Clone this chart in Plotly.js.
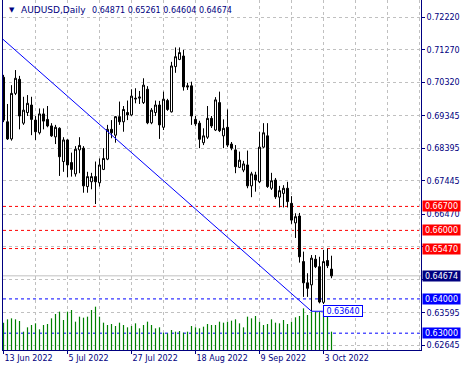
<!DOCTYPE html>
<html><head><meta charset="utf-8">
<script src="https://cdn.plot.ly/plotly-3.0.1.min.js"></script>
<style>html,body{margin:0;padding:0;background:#fff}#chart{width:466px;height:371px}</style>
</head><body><div id="chart"></div>
<script>
const symbolTitle = "AUDUSD,Daily";
const lastBarText = "0.64871 0.65261 0.64604 0.64674";
const openP  = [0.7047,0.6917,0.6867,0.7000,0.7041,0.6913,0.6944,0.6966,0.6922,0.6885,0.6940,0.6924,0.6905,0.6873,0.6898,0.6801,0.6864,0.6798,0.6765,0.6835,0.6840,0.6728,0.6742,0.6757,0.6739,0.6778,0.6808,0.6895,0.6878,0.6932,0.6917,0.6944,0.6937,0.6986,0.6986,0.6973,0.7012,0.6914,0.6944,0.6966,0.6901,0.6979,0.6946,0.7078,0.7099,0.7109,0.7022,0.7022,0.6924,0.6913,0.6856,0.6872,0.6927,0.6893,0.6973,0.6876,0.6901,0.6852,0.6835,0.6784,0.6776,0.6791,0.6730,0.6762,0.6742,0.6843,0.6876,0.6723,0.6747,0.6697,0.6708,0.6723,0.6679,0.6622,0.6642,0.6509,0.6447,0.6441,0.6516,0.6494,0.6390,0.6512,0.64871];
const highP  = [0.7054,0.6969,0.7024,0.7068,0.7051,0.6990,0.6995,0.6990,0.6934,0.6956,0.6956,0.6963,0.6913,0.6908,0.6901,0.6872,0.6866,0.6827,0.6846,0.6872,0.6846,0.6771,0.6768,0.6801,0.6810,0.6840,0.6908,0.6922,0.6934,0.6976,0.6963,0.6979,0.7012,0.7015,0.7007,0.7044,0.7021,0.6957,0.6979,0.6978,0.7005,0.6984,0.7092,0.7134,0.7134,0.7127,0.7031,0.7034,0.6934,0.6920,0.6898,0.6963,0.6934,0.6989,0.7005,0.6924,0.6953,0.6858,0.6849,0.6830,0.6803,0.6833,0.6771,0.6771,0.6888,0.6913,0.6913,0.6768,0.6753,0.6730,0.6732,0.6742,0.6700,0.6650,0.6651,0.6538,0.6475,0.6528,0.6528,0.6523,0.6543,0.6547,0.65261];
const lowP   = [0.6916,0.6864,0.6862,0.6995,0.6895,0.6908,0.6934,0.6878,0.6864,0.6880,0.6895,0.6901,0.6873,0.6852,0.6759,0.6771,0.6755,0.6757,0.6757,0.6767,0.6710,0.6710,0.6720,0.6677,0.6728,0.6776,0.6805,0.6869,0.6856,0.6908,0.6888,0.6922,0.6934,0.6971,0.6969,0.6969,0.6910,0.6910,0.6934,0.6867,0.6893,0.6949,0.6944,0.7060,0.7097,0.7008,0.7010,0.6908,0.6905,0.6840,0.6849,0.6867,0.6899,0.6890,0.6887,0.6840,0.6843,0.6834,0.6767,0.6782,0.6770,0.6723,0.6697,0.6713,0.6738,0.6840,0.6724,0.6718,0.6692,0.6667,0.6667,0.6667,0.6619,0.6578,0.6506,0.6406,0.6406,0.6364,0.6490,0.6387,0.6385,0.6490,0.64604];
const closeP = [0.6922,0.6867,0.7000,0.7044,0.6934,0.6951,0.6971,0.6924,0.6888,0.6940,0.6919,0.6905,0.6876,0.6901,0.6815,0.6864,0.6791,0.6778,0.6837,0.6848,0.6730,0.6757,0.6757,0.6742,0.6791,0.6810,0.6895,0.6885,0.6932,0.6917,0.6953,0.6937,0.6992,0.6984,0.6989,0.7024,0.6914,0.6951,0.6966,0.6908,0.6983,0.6953,0.7080,0.7107,0.7119,0.7019,0.7019,0.6934,0.6911,0.6866,0.6876,0.6927,0.6905,0.6981,0.6891,0.6898,0.6849,0.6840,0.6786,0.6805,0.6794,0.6730,0.6765,0.6747,0.6843,0.6885,0.6728,0.6745,0.6698,0.6716,0.6723,0.6684,0.6630,0.6640,0.6523,0.6447,0.6431,0.6519,0.6494,0.6391,0.6509,0.6497,0.64674];
const volume = [82,92,95,92,87,55,68,75,80,62,75,78,95,108,115,90,115,120,85,100,97,100,120,130,100,82,75,78,72,82,75,68,72,80,65,75,85,75,65,68,52,50,60,55,57,52,55,72,68,65,70,78,75,75,85,82,85,88,92,80,68,100,95,102,85,75,78,92,82,80,90,78,85,98,102,125,105,115,115,115,115,105,55].map(v => v * 1000);
const tickLabels = ["13 Jun 2022","5 Jul 2022","27 Jul 2022","18 Aug 2022","9 Sep 2022","3 Oct 2022"];
const tickBars = [0,16,32,48,64,80];
const priceGrid = [0.72220,0.71270,0.70320,0.69345,0.68395,0.67445,0.66470,0.65520,0.64570,0.63595,0.62645];
const priceGridHidden = [0.65520,0.64570];
const redLevels = [0.66700,0.66000,0.65470];
const blueLevels = [0.64000,0.63000];
const bidPrice = 0.64674;
const trendBars = [-0.15, 77];
const trendPrices = [0.7158, 0.6364];
const trendLabel = {bar: 79.85, price: 0.63640};

const NAVY = '#000080', GRID = '#c0c0c0', FONT = 'DejaVu Sans';
const idx = openP.map((_, i) => i);

const traces = [
  {type:'bar', x: idx, y: volume, yaxis:'y', marker:{color:'#008000', line:{width:0}}, width:0.3, hoverinfo:'skip'},
  {type:'candlestick', x: idx, open: openP, high: highP, low: lowP, close: closeP, yaxis:'y2',
   increasing:{line:{color:'#000000', width:1}, fillcolor:'#ffffff'},
   decreasing:{line:{color:'#000000', width:1}, fillcolor:'#000000'},
   whiskerwidth:0, hoverinfo:'skip'}
];

const shapes = [];
redLevels.forEach(p => shapes.push({type:'line', xref:'paper', x0:0, x1:1, yref:'y2', y0:p, y1:p, layer:'between', line:{color:'#ff0000', width:1, dash:'3px,3px'}}));
blueLevels.forEach(p => shapes.push({type:'line', xref:'paper', x0:0, x1:1, yref:'y2', y0:p, y1:p, layer:'between', line:{color:'#0000ff', width:1, dash:'3px,3px'}}));
shapes.push({type:'line', xref:'paper', x0:0, x1:1, yref:'y2', y0:bidPrice, y1:bidPrice, layer:'between', line:{color:GRID, width:1}});
shapes.push({type:'line', xref:'x', yref:'y2', x0:trendBars[0], x1:trendBars[1], y0:trendPrices[0], y1:trendPrices[1], layer:'above', line:{color:'#0000ff', width:1}});
shapes.push({type:'line', xref:'x', yref:'y2', x0:trendBars[1], x1:trendLabel.bar, y0:trendLabel.price, y1:trendLabel.price, layer:'above', line:{color:'#0000ff', width:1}});

const annotations = [
  {xref:'paper', yref:'paper', x:0, y:1, xanchor:'left', yanchor:'middle', xshift:4, yshift:-10, text:'▼', showarrow:false, font:{family:FONT, size:7, color:NAVY}},
  {xref:'paper', yref:'paper', x:0, y:1, xanchor:'left', yanchor:'middle', xshift:16, yshift:-10, text:symbolTitle, showarrow:false, font:{family:FONT, size:9, color:NAVY}},
  {xref:'paper', yref:'paper', x:0, y:1, xanchor:'left', yanchor:'middle', xshift:87, yshift:-10, text:lastBarText, showarrow:false, font:{family:FONT, size:8, color:NAVY}}
];
function priceBox(p, bg) {
  annotations.push({xref:'paper', yref:'y2', x:1, y:p, xanchor:'left', yanchor:'middle', xshift:1, text:p.toFixed(5), showarrow:false,
    bgcolor:bg, borderpad:0, width:37, height:10, font:{family:FONT, size:8, color:'#ffffff'}});
}
redLevels.forEach(p => priceBox(p, '#ff0000'));
blueLevels.forEach(p => priceBox(p, '#0000ff'));
priceBox(bidPrice, NAVY);
annotations.push({xref:'x', yref:'y2', x:trendLabel.bar, y:trendLabel.price, xanchor:'left', yanchor:'middle', text:trendLabel.price.toFixed(5), showarrow:false,
  bgcolor:'#ffffff', bordercolor:'#0000ff', borderwidth:1, borderpad:0, width:38, height:10, font:{family:FONT, size:8, color:'#0000ff'}});

const layout = {
  width:466, height:371, margin:{l:3, r:45, t:0, b:21}, paper_bgcolor:'#ffffff', plot_bgcolor:'#ffffff', showlegend:false,
  boxgap:0.5, boxgroupgap:0,
  xaxis:{range:[-0.125, 104.375], tickmode:'array', tickvals:tickBars, ticktext:tickLabels, ticks:'outside', ticklen:3, tickcolor:NAVY,
    ticklabelposition:'outside right', tickfont:{family:FONT, size:8, color:NAVY},
    showgrid:true, gridcolor:GRID, griddash:'3px,3px', gridwidth:1,
    minor:{tickmode:'linear', tick0:0, dtick:8, showgrid:true, gridcolor:GRID, griddash:'3px,3px', gridwidth:1, ticks:''},
    showline:true, linecolor:NAVY, linewidth:1, zeroline:false, rangeslider:{visible:false}, fixedrange:true},
  yaxis:{range:[0, 1050000], visible:false, fixedrange:true},
  yaxis2:{overlaying:'y', side:'right', range:[0.62509, 0.72725], tickmode:'array', tickvals:priceGrid,
    ticktext:priceGrid.map(v => priceGridHidden.includes(v) ? '' : v.toFixed(5)),
    ticks:'outside', ticklen:3, tickcolor:NAVY, tickfont:{family:FONT, size:8, color:NAVY},
    showgrid:true, gridcolor:GRID, griddash:'3px,3px', gridwidth:1,
    showline:true, mirror:true, linecolor:NAVY, linewidth:1, zeroline:false, fixedrange:true},
  shapes:shapes, annotations:annotations
};
Plotly.newPlot('chart', traces, layout, {staticPlot:true, displayModeBar:false});
</script></body></html>
